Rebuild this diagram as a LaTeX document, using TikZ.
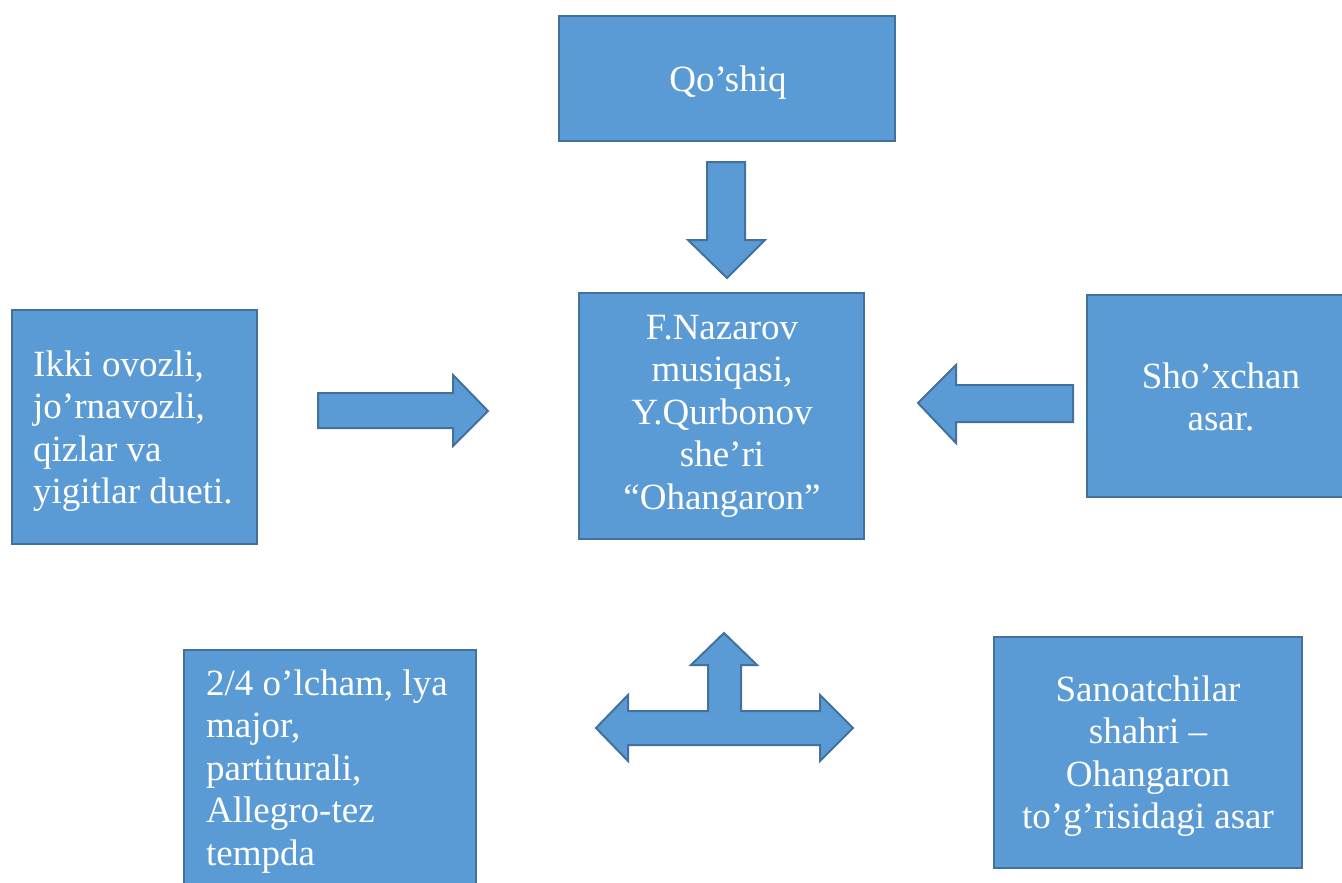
\documentclass[tikz,border=0pt]{standalone}
\usepackage{fontspec}
\setmainfont{Liberation Serif}
\definecolor{boxfill}{HTML}{5B9BD5}
\definecolor{boxline}{HTML}{41719C}
\newcommand{\ctext}[1]{\begin{tabular}[t]{@{}c@{}}#1\end{tabular}}
\newcommand{\ltext}[1]{\begin{tabular}[t]{@{}l@{}}#1\end{tabular}}
\tikzset{
  blk/.style={draw=boxline, fill=boxfill, line width=2.2pt, rectangle, inner sep=0pt},
  barrow/.style={draw=boxline, fill=boxfill, line width=2pt, line join=miter},
  txt/.style={text=white, inner sep=0pt, anchor=base, font=\fontsize{37}{42.5}\selectfont},
}
\begin{document}
\begin{tikzpicture}[x=1pt,y=-1pt]
\useasboundingbox (0,0) rectangle (1342,883);
% boxes
\draw[blk] (559,16) rectangle (895,141) node[pos=0.5, draw=none, fill=none] (top) {};
\draw[blk] (579,293) rectangle (864,539) node[pos=0.5, draw=none, fill=none] (center) {};
\draw[blk] (12,310) rectangle (257,544) node[pos=0.5, draw=none, fill=none] (left) {};
\draw[blk] (1087,295) rectangle (1350,497) node[pos=0.5, draw=none, fill=none] (right) {};
\draw[blk] (184,650) rectangle (476,895) node[pos=0.5, draw=none, fill=none] (botleft) {};
\draw[blk] (994,637) rectangle (1302,868) node[pos=0.5, draw=none, fill=none] (botright) {};
% texts
\node[txt] (ttop) at (728,92) {Qo’shiq};
\node[txt] (tcenter) at (722,339) {\ctext{F.Nazarov\\musiqasi,\\Y.Qurbonov\\she’ri\\“Ohangaron”}};
\node[txt, anchor=base west] (tleft) at (33,376) {\ltext{Ikki ovozli,\\jo’rnavozli,\\qizlar va\\yigitlar dueti.}};
\node[txt] (tright) at (1221,388) {\ctext{Sho’xchan\\asar.}};
\node[txt, anchor=base west] (tbotleft) at (206,695) {\ltext{2/4 o’lcham, lya\\major,\\partiturali,\\Allegro-tez\\tempda}};
\node[txt] (tbotright) at (1148,701) {\ctext{Sanoatchilar\\shahri –\\Ohangaron\\to’g’risidagi asar}};
% down arrow
\draw[barrow] (707,162) -- (745,162) -- (745,240) -- (765,240) -- (727,278) -- (688,240) -- (707,240) -- cycle;
% right arrow
\draw[barrow] (318,393) -- (453,393) -- (453,375) -- (488,411) -- (453,446) -- (453,428) -- (318,428) -- cycle;
% left arrow
\draw[barrow] (1073,385) -- (956,385) -- (956,365) -- (918,403) -- (956,443) -- (956,422) -- (1073,422) -- cycle;
% T arrow
\draw[barrow] (596,728) -- (628,695) -- (628,711) -- (708,711) -- (708,665) -- (691,665) -- (724,633) -- (757,665) -- (741,665) -- (741,711) -- (820,711) -- (820,695) -- (853,728) -- (820,761) -- (820,745) -- (628,745) -- (628,761) -- cycle;
\end{tikzpicture}
\end{document}
